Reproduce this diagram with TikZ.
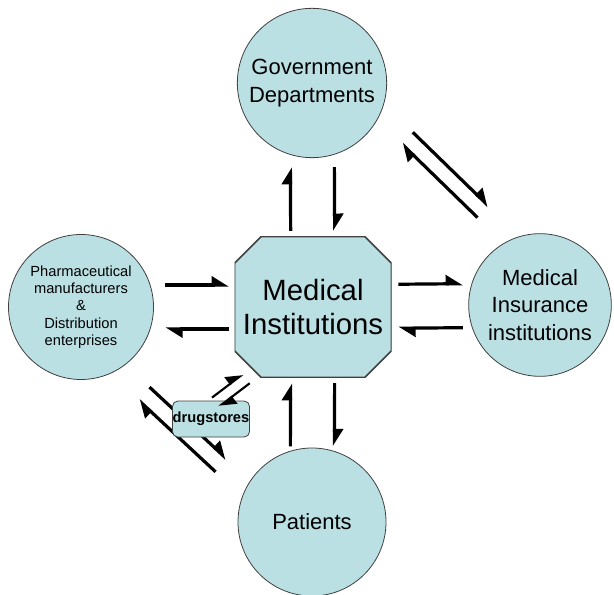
\documentclass[tikz,border=0pt]{standalone}
\usepackage{fontspec}
\setmainfont{Liberation Sans}
\usetikzlibrary{positioning, arrows.meta, calc}

\definecolor{cellfill}{RGB}{187,224,228}
\definecolor{cellline}{RGB}{64,64,64}

\begin{document}
\begin{tikzpicture}[
  x=0.75pt, y=-0.75pt,
  party/.style={
    circle,
    draw=cellline,
    line width=0.6pt,
    fill=cellfill,
    align=center,
    inner sep=0pt,
    minimum size=112pt,
    font=\fontsize{16.5}{20.5}\selectfont,
  },
  hub/.style={
    rectangle,
    align=center,
    inner sep=0pt,
    minimum width=117.75pt,
    minimum height=105.75pt,
    font=\fontsize{22}{26}\selectfont,
    path picture={
      \path[draw=cellline, fill=cellfill, line width=1.2pt]
        ([xshift=20pt]path picture bounding box.north west)
        -- ([xshift=-20pt]path picture bounding box.north east)
        -- ([yshift=-20pt]path picture bounding box.north east)
        -- ([yshift=20pt]path picture bounding box.south east)
        -- ([xshift=-20pt]path picture bounding box.south east)
        -- ([xshift=20pt]path picture bounding box.south west)
        -- ([yshift=20pt]path picture bounding box.south west)
        -- ([yshift=-20pt]path picture bounding box.north west)
        -- cycle;
    },
  },
  shop/.style={
    rectangle,
    rounded corners=4pt,
    draw=cellline,
    line width=0.6pt,
    fill=cellfill,
    inner sep=0pt,
    minimum width=57.75pt,
    minimum height=27pt,
    font=\fontsize{11}{13}\selectfont\bfseries,
  },
  flow/.style={
    draw,
    line width=2.4pt,
    -{Triangle[left, length=11pt, width=13pt]},
  },
]
\useasboundingbox (0,0) rectangle (614,595);

\node[hub] (med) at (313,307) {Medical\\Institutions};
\node[party] (gov) at (312,83) {Government\\Departments};
\node[party, minimum size=107pt] (ins) at (540,305) {Medical\\Insurance\\institutions};
\node[party, minimum size=108.75pt, font=\fontsize{11}{13}\selectfont] (pha) at (81,307)
  {Pharmaceutical\\manufacturers\\\&\\Distribution\\enterprises};
\node[party, minimum size=111pt] (pat) at (312,522) {Patients};

% pairs of one-way flows, pushed off the line between centres
\draw[flow, transform canvas={xshift=-16.5pt}, shorten <=4pt, shorten >=6.75pt] (med) -- (gov);
\draw[flow, transform canvas={xshift=16.5pt}, shorten <=6.75pt, shorten >=4pt] (gov) -- (med);
\draw[flow, transform canvas={xshift=-16.5pt}, shorten <=1pt, shorten >=4pt] (pat) -- (med);
\draw[flow, transform canvas={xshift=16.5pt}, shorten <=4pt, shorten >=1pt] (med) -- (pat);
\draw[flow, transform canvas={yshift=16.5pt}, shorten <=8.6pt, shorten >=4pt] (pha) -- (med);
\draw[flow, transform canvas={yshift=-16.5pt}, shorten <=4pt, shorten >=8.6pt] (med) -- (pha);
\draw[flow, transform canvas={yshift=16.5pt}, shorten <=4.9pt, shorten >=4pt] (med) -- (ins);
\draw[flow, transform canvas={yshift=-16.5pt}, shorten <=4pt, shorten >=4.9pt] (ins) -- (med);
\draw[flow, transform canvas={xshift=18.3pt, yshift=18.8pt}, shorten <=23.7pt, shorten >=25.5pt] (gov) -- (ins);
\draw[flow, transform canvas={xshift=10pt, yshift=10.2pt}, shorten <=25.6pt, shorten >=23.6pt] (ins) -- (gov);
\draw[flow, transform canvas={xshift=-6.1pt, yshift=-6.6pt}, shorten <=23.8pt, shorten >=23.4pt] (pha) -- (pat);
\draw[flow, transform canvas={xshift=-14.8pt, yshift=-15.9pt}, shorten <=22.8pt, shorten >=24.5pt] (pat) -- (pha);

\node[shop] (drug) at (211,419) {drugstores};
\draw[flow, line width=1.6pt] ($(drug.north)+(1,-3)$) -- ($(med.west |- med.south)+(8.5,-3.5)$);
\draw[flow, line width=1.6pt] ($(med.west |- med.south)+(15.5,5.5)$) -- ($(drug.north)+(8,6)$);
\end{tikzpicture}
\end{document}
